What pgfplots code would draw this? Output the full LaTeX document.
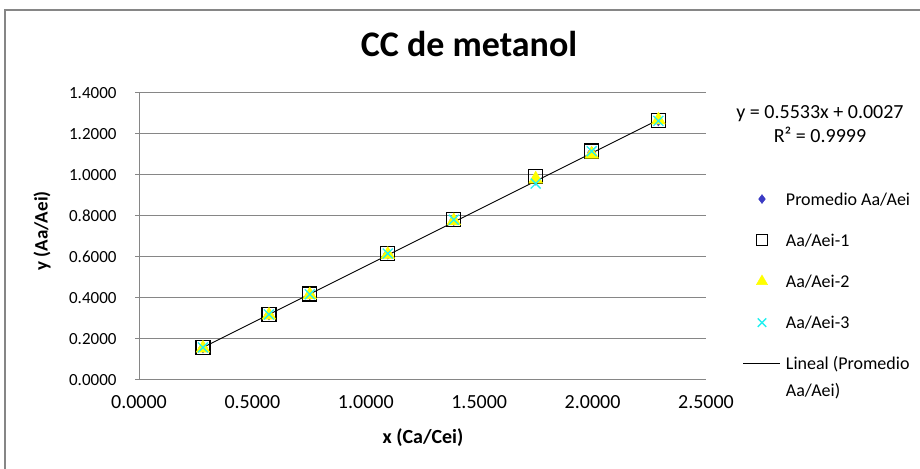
\documentclass[border=0pt]{standalone}
\usepackage{fontspec}
\setmainfont{Carlito}
\usepackage{pgfplots}
\pgfplotsset{compat=1.18}
\definecolor{gridgray}{HTML}{868686}
\definecolor{mblue}{HTML}{3B3BC4}
\definecolor{myellow}{HTML}{FFFF00}
\definecolor{mcyan}{HTML}{22F0F0}
\pgfplotsset{
  markleg/.style={legend image code/.code={\draw[##1,mark size=#1] plot coordinates {(18.5bp,6bp)}; \path (0bp,6bp) (37bp,6bp);}},
  lineleg/.style={legend image code/.code={\draw[##1] (0bp,6bp) -- (37bp,6bp);}},
}
\begin{document}
\begin{tikzpicture}[x=1bp,y=1bp]
\useasboundingbox (0,0) rectangle (920,469);
\begin{axis}[
  at={(139bp,89bp)}, anchor=south west,
  scale only axis, width=567bp, height=287bp,
  xmin=0, xmax=2.5, ymin=0, ymax=1.4,
  xtick={0,0.5,1,1.5,2,2.5},
  ytick={0,0.2,0.4,0.6,0.8,1.0,1.2,1.4},
  axis x line*=bottom, axis y line*=left,
  axis line style={gridgray, line width=1bp},
  ymajorgrids, grid style={gridgray, line width=1bp},
  xtick style={draw=none},
  ytick style={gridgray, line width=1bp},
  tick align=outside, major tick length=4bp,
  xticklabel style={font=\fontsize{20bp}{24bp}\selectfont, text=black, yshift=-8bp},
  yticklabel style={font=\fontsize{17bp}{20bp}\selectfont, text=black, xshift=-15bp},
  /pgf/number format/assume math mode=true,
  /pgf/number format/.cd, fixed, fixed zerofill, precision=4, /pgfplots/.cd,
  clip=false,
  legend style={at={(1.0653,0.655)}, anchor=north west, draw=none, fill=none,
    inner sep=0pt, outer sep=0pt, row sep=24.2bp, column sep=5bp,
    font=\fontsize{18bp}{21bp}\selectfont,
    nodes={inner sep=0pt, text height=13bp, text depth=4bp, anchor=base west}},
  legend cell align=left,
]
\addplot[only marks, mark=diamond*, mark size=5.5bp, mblue, mark options={fill=mblue, draw=mblue}, markleg=4.5bp]
  coordinates {(0.282,0.158) (0.573,0.319) (0.753,0.418) (1.097,0.616) (1.388,0.780) (1.749,0.977) (1.996,1.111) (2.290,1.266)};
\addlegendentry{Promedio Aa/Aei}
\addplot[only marks, mark=square, mark size=7bp, black, mark options={line width=1.3bp}, markleg=5.5bp]
  coordinates {(0.282,0.159) (0.573,0.320) (0.753,0.420) (1.097,0.618) (1.388,0.782) (1.749,0.992) (1.996,1.117) (2.290,1.266)};
\addlegendentry{Aa/Aei-1}
\addplot[only marks, mark=triangle*, mark size=8bp, myellow, mark options={fill=myellow, draw=myellow}, markleg=6.5bp]
  coordinates {(0.282,0.155) (0.573,0.316) (0.753,0.415) (1.097,0.612) (1.388,0.776) (1.749,0.980) (1.996,1.101) (2.290,1.268)};
\addlegendentry{Aa/Aei-2}
\addplot[only marks, mark=x, mark size=7bp, mcyan, mark options={line width=1.3bp}, markleg=6bp]
  coordinates {(0.282,0.159) (0.573,0.320) (0.753,0.418) (1.097,0.617) (1.388,0.782) (1.749,0.958) (1.996,1.116) (2.290,1.264)};
\addlegendentry{Aa/Aei-3}
\addplot[black, line width=0.9bp, no marks, lineleg]
  coordinates {(0.282,0.1587) (2.290,1.2697)};
\addlegendentry{\begin{tabular}[t]{@{}l@{}}Lineal (Promedio\\[6bp]Aa/Aei)\end{tabular}}
\end{axis}
\draw[gridgray, line width=1.5bp] (5,0) -- (5,459) -- (920,459);
\node[font=\bfseries\fontsize{36bp}{40bp}\selectfont] at (469,424.5) {CC de metanol};
\node[font=\bfseries\fontsize{20bp}{24bp}\selectfont] at (423,31) {x (Ca/Cei)};
\node[font=\bfseries\fontsize{19bp}{23bp}\selectfont, rotate=90] at (42,238) {y (Aa/Aei)};
\node[font=\fontsize{20bp}{24bp}\selectfont, align=center] at (820,345) {y = 0.5533x + 0.0027\\R² = 0.9999};
\end{tikzpicture}
\end{document}
